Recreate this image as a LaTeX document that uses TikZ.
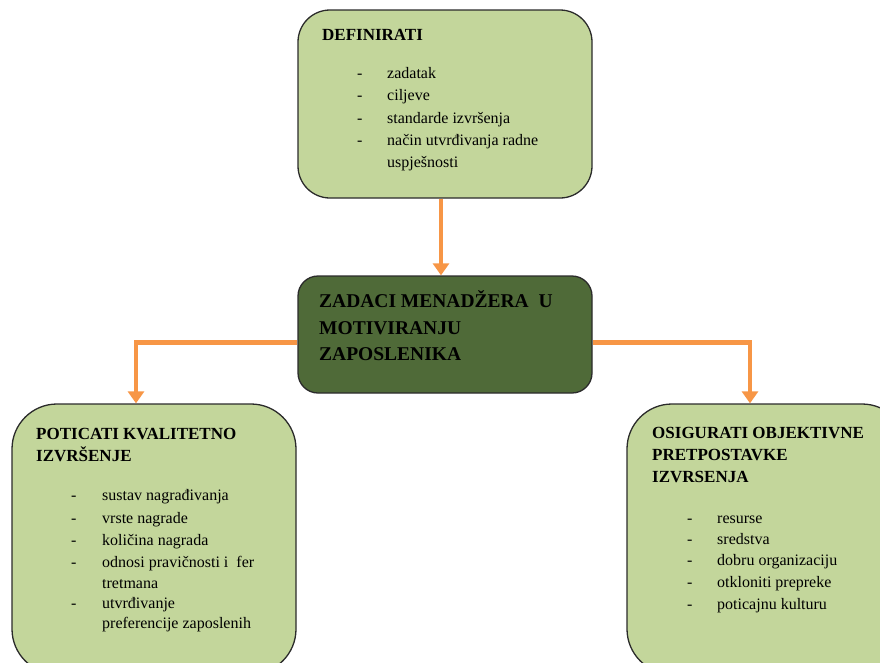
\documentclass[tikz,border=0pt]{standalone}
\usepackage{fontspec}
\setmainfont{Liberation Serif}
\usetikzlibrary{arrows.meta}
\definecolor{lgreen}{HTML}{C3D69B}
\definecolor{dgreen}{HTML}{4F6A38}
\definecolor{orng}{HTML}{F79646}
\definecolor{edge}{HTML}{2B2B2B}
\begin{document}
\begin{tikzpicture}[x=1pt,y=-1pt,
  box/.style={draw=edge, line width=1.3pt, fill=lgreen, inner sep=0pt},
  arr/.style={draw=orng, line width=4.5pt, -{Triangle[width=16pt,length=12pt]}},
  ttl/.style={anchor=base west, inner sep=0pt, font=\fontsize{17}{20}\selectfont\bfseries},
  ctl/.style={anchor=base west, inner sep=0pt, font=\fontsize{19.5}{23}\selectfont\bfseries},
  itm/.style={anchor=base west, inner sep=0pt, font=\fontsize{16}{19}\selectfont}]
\useasboundingbox (0,0) rectangle (880,662);
\clip (0,0) rectangle (880,662);
% boxes
\node[box, rounded corners=32pt, minimum width=294pt, minimum height=188pt] (def) at (445,104) {};
\node[box, fill=dgreen, rounded corners=20pt, minimum width=294pt, minimum height=117pt] (zad) at (445,334.5) {};
\node[box, rounded corners=45pt, minimum width=284pt, minimum height=270pt] (pot) at (154,539) {};
\node[box, rounded corners=45pt, minimum width=280pt, minimum height=270pt] (osi) at (767,539) {};
% connectors
\draw[arr] ([xshift=-4pt]def.south) -- ([xshift=-4pt]zad.north);
\draw[arr] ([yshift=-8pt]zad.west) -| ([xshift=-18pt]pot.north);
\draw[arr] ([yshift=-8pt]zad.east) -| ([xshift=-17pt]osi.north);
% top box text
\node[ttl] (t0) at (322,40) {DEFINIRATI};
\foreach \y/\t [count=\i] in {78/zadatak,100/ciljeve,123/standarde izvršenja,145/način utvrđivanja radne}
  {\node[itm] (td\i) at (357,\y) {-}; \node[itm] (tt\i) at (387,\y) {\t};}
\node[itm] (tt5) at (387,167) {uspješnosti};
% center text
\node[ctl] (c1) at (319,307) {ZADACI MENADŽERA\ \ U};
\node[ctl] (c2) at (319,334) {MOTIVIRANJU};
\node[ctl] (c3) at (319,360) {ZAPOSLENIKA};
% left box text
\node[ttl] (l1) at (36,439) {POTICATI KVALITETNO};
\node[ttl] (l2) at (36,461) {IZVRŠENJE};
\foreach \y/\t [count=\i] in {500/sustav nagrađivanja,523/vrste nagrade,545/količina nagrada,567/odnosi pravičnosti i\ \ fer,608/utvrđivanje}
  {\node[itm] (ld\i) at (71,\y) {-}; \node[itm] (lt\i) at (102,\y) {\t};}
\node[itm] (lw1) at (102,588) {tretmana};
\node[itm] (lw2) at (102,628) {preferencije zaposlenih};
% right box text
\node[ttl] (r1) at (652,438) {OSIGURATI OBJEKTIVNE};
\node[ttl] (r2) at (652,460) {PRETPOSTAVKE};
\node[ttl] (r3) at (652,482) {IZVRSENJA};
\foreach \y/\t [count=\i] in {523/resurse,544/sredstva,565/dobru organizaciju,587/otkloniti prepreke,609/poticajnu kulturu}
  {\node[itm] (rd\i) at (687,\y) {-}; \node[itm] (rt\i) at (717,\y) {\t};}
\end{tikzpicture}
\end{document}
